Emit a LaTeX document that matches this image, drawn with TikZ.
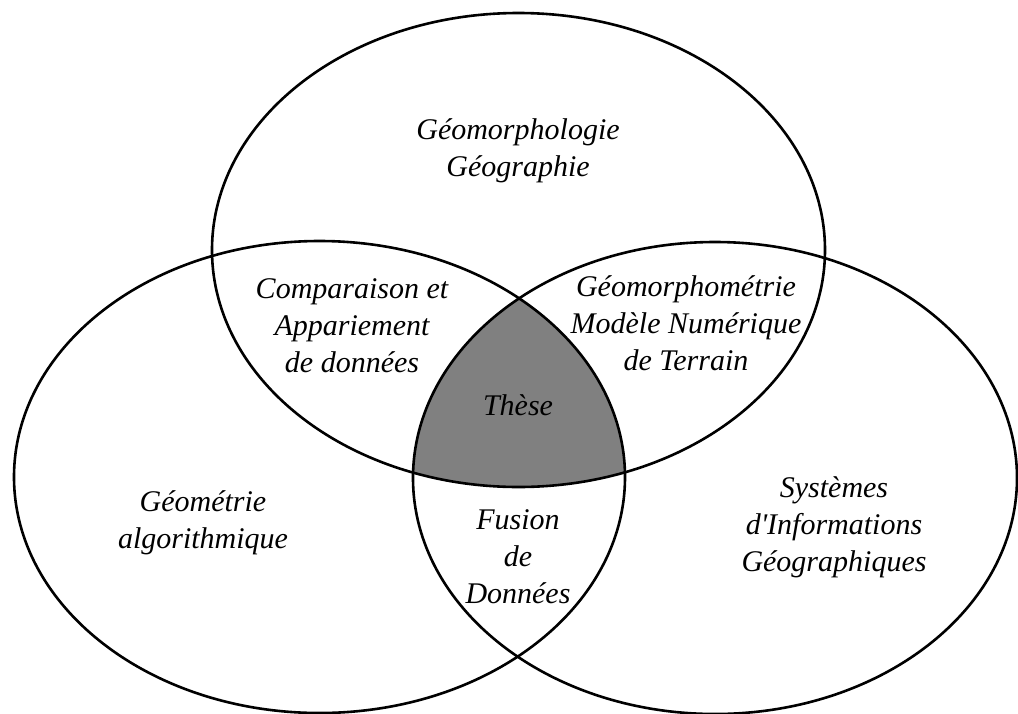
\documentclass[tikz,border=0pt]{standalone}
\usepackage{fontspec}
\setmainfont{Liberation Serif}[Ligatures=TeXOff]
\begin{document}
\begin{tikzpicture}[x=1pt,y=-1pt,
  venn/.style={draw=black,line width=2.6pt},
  lbl/.style={font=\fontsize{30}{37}\selectfont\itshape,align=center,inner sep=0pt,anchor=base}]
\useasboundingbox (0,0) rectangle (1018,713);
\fill[white] (0,0) rectangle (1018,713);
\coordinate (ct) at (518.5,250);
\coordinate (cl) at (319.5,477);
\coordinate (cr) at (715,478);
\begin{scope}
  \clip (ct) ellipse [x radius=306.5,y radius=237];
  \clip (cl) ellipse [x radius=305.5,y radius=236];
  \fill[fill={rgb,255:red,128;green,128;blue,128}] (cr) ellipse [x radius=302,y radius=236];
\end{scope}
\draw[venn] (ct) ellipse [x radius=306.5,y radius=237];
\draw[venn] (cl) ellipse [x radius=305.5,y radius=236];
\draw[venn] (cr) ellipse [x radius=302,y radius=236];
\node[lbl] (geo) at (518,176) {Géomorphologie\\Géographie};
\node[lbl] (comp) at (352,372) {Comparaison et\\Appariement\\de données};
\node[lbl] (mnt) at (686,370) {Géomorphométrie\\Modèle Numérique\\de Terrain};
\node[lbl] (these) at (518,415) {Thèse};
\node[lbl] (galg) at (203,548) {Géométrie\\algorithmique};
\node[lbl] (fus) at (518,603) {Fusion\\de\\Données};
\node[lbl] (sig) at (834,571) {Systèmes\\d'Informations\\Géographiques};
\end{tikzpicture}
\end{document}
